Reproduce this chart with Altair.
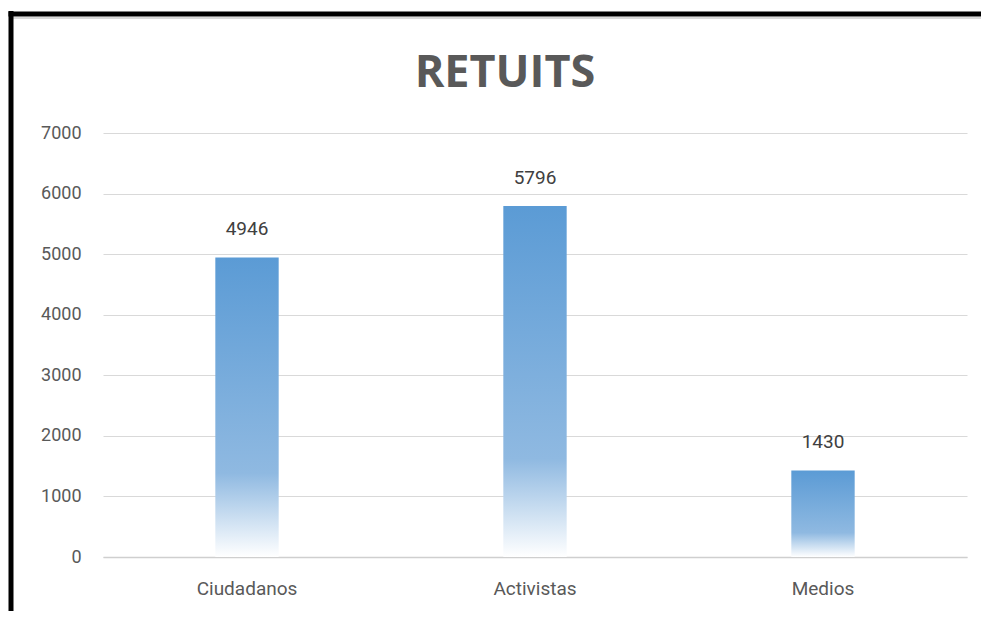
import altair as alt
import pandas as pd

categories = ["Ciudadanos", "Activistas", "Medios"]
values = [4946, 5796, 1430]
y_ticks = [0, 1000, 2000, 3000, 4000, 5000, 6000, 7000]
title_text = "RETUITS"

df = pd.DataFrame({"categoria": categories, "retuits": values})

FONT = "Roboto, sans-serif"

x_enc = alt.X(
    "categoria:N",
    sort=categories,
    title=None,
    scale=alt.Scale(paddingInner=0.78, paddingOuter=0.39),
    axis=alt.Axis(
        labelAngle=0,
        labelFont=FONT,
        labelFontSize=19,
        labelColor="#595959",
        labelPadding=22,
        ticks=False,
        domainColor="#CFCFCF",
        domainWidth=1.5,
        grid=False,
    ),
)
y_enc = alt.Y(
    "retuits:Q",
    title=None,
    scale=alt.Scale(domain=[0, 7000], nice=False),
    axis=alt.Axis(
        values=y_ticks,
        format="d",
        labelFont=FONT,
        labelFontSize=18,
        labelColor="#595959",
        labelPadding=22,
        ticks=False,
        domain=False,
        gridColor="#D9D9D9",
        gridWidth=1,
    ),
)

gradient = alt.Gradient(
    gradient="linear",
    x1=0, x2=0, y1=0, y2=1,
    stops=[
        alt.GradientStop(offset=0, color="#5B9BD5"),
        alt.GradientStop(offset=0.72, color="#8FB9E1"),
        alt.GradientStop(offset=1, color="#FFFFFF"),
    ],
)

base = alt.Chart(df)
bars = base.mark_bar(color=gradient).encode(x=x_enc, y=y_enc)
labels = base.mark_text(
    font=FONT, fontSize=19, color="#404040", baseline="alphabetic", dy=-22
).encode(x=alt.X("categoria:N", sort=categories), y="retuits:Q", text="retuits:Q")

frame_df = pd.DataFrame({"k": [0]})
left_border = alt.Chart(frame_df).mark_rule(color="black", strokeWidth=5).encode(
    x=alt.value(-92), y=alt.value(-122), y2=alt.value(480)
)
top_shadow = alt.Chart(frame_df).mark_rule(color="#D9D9D9", strokeWidth=2).encode(
    y=alt.value(-115), x=alt.value(-90), x2=alt.value(880)
)
top_border = alt.Chart(frame_df).mark_rule(color="black", strokeWidth=5).encode(
    y=alt.value(-119), x=alt.value(-94.5), x2=alt.value(880)
)

chart = (
    alt.layer(bars, labels, top_shadow, left_border, top_border)
    .properties(
        width=864,
        height=424,
        title=alt.TitleParams(
            title_text,
            font="Open Sans",
            fontSize=45,
            fontWeight="bold",
            color="#595959",
            anchor="middle",
            baseline="bottom",
            offset=0,
            dy=132,
            dx=-30,
        ),
        autosize=alt.AutoSizeParams(type="none"),
        padding={"left": 95, "top": 125, "right": 14, "bottom": 54},
    )
    .configure(background="white")
    .configure_view(strokeWidth=0, stroke="transparent")
)

chart.save("out.html", embed_options={"renderer": "svg", "actions": False})
